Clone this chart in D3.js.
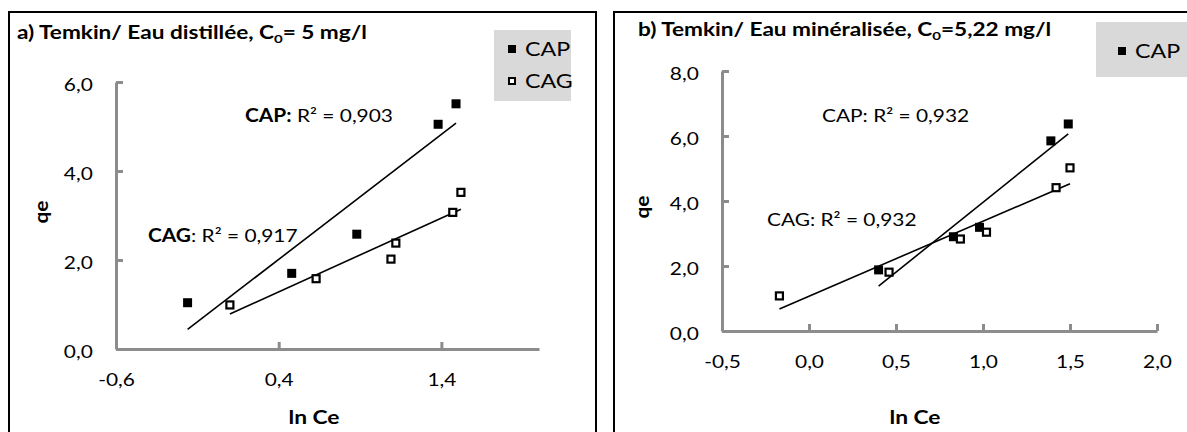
<!DOCTYPE html>
<html>
<head>
<meta charset="utf-8">
<script src="https://cdn.jsdelivr.net/npm/d3@7"></script>
<style>
  body { margin: 0; background: #fff; }
  svg { display: block; font-family: Lato, "Liberation Sans", sans-serif; }
</style>
</head>
<body>
<script>
// a) Temkin / eau distillée
var capXa = [-0.16, 0.48, 0.88, 1.38, 1.49];
var capYa = [1.04, 1.70, 2.58, 5.05, 5.51];
var cagXa = [0.10, 0.63, 1.09, 1.12, 1.47, 1.52];
var cagYa = [0.99, 1.58, 2.02, 2.38, 3.07, 3.52];

// b) Temkin / eau minéralisée
var capXb = [0.40, 0.83, 0.98, 1.39, 1.49];
var capYb = [1.88, 2.90, 3.19, 5.85, 6.37];
var cagXb = [-0.17, 0.46, 0.87, 1.02, 1.42, 1.50];
var cagYb = [1.08, 1.81, 2.83, 3.04, 4.41, 5.02];

// axis ticks
var xTicksA = [-0.6, 0.4, 1.4];
var yTicksA = [0, 2, 4, 6];
var xTicksB = [-0.5, 0, 0.5, 1, 1.5, 2];
var yTicksB = [0, 2, 4, 6, 8];

var fr = d3.formatLocale({decimal: ",", thousands: " ", grouping: [3], currency: ["", ""], minus: "-"});
var fmt = fr.format(".1f");

// the original is stretched sideways a bit, so text is widened to match
var SX = 1.16, SXT = 1.255;

var svg = d3.select("body").append("svg")
  .attr("width", 1187)
  .attr("height", 432);

// least squares trend line over the data range
function trend(xs, ys) {
  var mx = d3.mean(xs), my = d3.mean(ys);
  var sxy = d3.sum(xs, function(x, i) { return (x - mx) * (ys[i] - my); });
  var sxx = d3.sum(xs, function(x) { return (x - mx) * (x - mx); });
  var b = sxy / sxx, a = my - b * mx;
  var x0 = d3.min(xs), x1 = d3.max(xs);
  return [[x0, a + b * x0], [x1, a + b * x1]];
}

function label(g, x, y, s) {
  return g.append("text").attr("transform", "translate(" + x + "," + y + ")scale(" + s + ",1)");
}

function panel(o) {
  var g = svg.append("g");

  // frame
  g.append("rect")
    .attr("x", o.frame[0]).attr("y", 12)
    .attr("width", o.frame[1] - o.frame[0]).attr("height", 440)
    .attr("fill", "none").attr("stroke", "#000").attr("stroke-width", 2);

  var x = d3.scaleLinear().domain(o.xDom).range(o.xRange);
  var y = d3.scaleLinear().domain(o.yDom).range(o.yRange);

  var ax = g.append("g")
    .attr("transform", "translate(0," + o.yRange[0] + ")")
    .call(d3.axisBottom(x).tickValues(o.xTicks).tickFormat(fmt)
      .tickSizeInner(-7).tickSizeOuter(0).tickPadding(24));
  var ay = g.append("g")
    .attr("transform", "translate(" + o.xRange[0] + ",0)")
    .call(d3.axisLeft(y).tickValues(o.yTicks).tickFormat(fmt)
      .tickSizeInner(-7).tickSizeOuter(0).tickPadding(20));

  [ax, ay].forEach(function(a) {
    a.select(".domain").attr("stroke", "#8c8c8c").attr("stroke-width", 3);
    a.selectAll(".tick line").attr("stroke", "#8c8c8c").attr("stroke-width", 3);
    a.selectAll(".tick text").attr("fill", "#000").style("font-size", "18px")
      .style("font-family", "Lato, sans-serif")
      .attr("transform", "scale(" + SX + ",1)");
  });
  ay.selectAll(".tick text").attr("dy", "0.45em");

  // trend lines
  var line = d3.line().x(function(d) { return x(d[0]); }).y(function(d) { return y(d[1]); });
  g.append("path").attr("d", line(trend(o.capX, o.capY)))
    .attr("stroke", "#000").attr("stroke-width", 1.6).attr("fill", "none");
  g.append("path").attr("d", line(trend(o.cagX, o.cagY)))
    .attr("stroke", "#000").attr("stroke-width", 1.6).attr("fill", "none");

  // points
  g.selectAll("rect.cap").data(o.capX).enter().append("rect")
    .attr("class", "cap")
    .attr("x", function(d) { return x(d) - 4.5; })
    .attr("y", function(d, i) { return y(o.capY[i]) - 4.5; })
    .attr("width", 9).attr("height", 9).attr("fill", "#000");
  g.selectAll("rect.cag").data(o.cagX).enter().append("rect")
    .attr("class", "cag")
    .attr("x", function(d) { return x(d) - 3.5; })
    .attr("y", function(d, i) { return y(o.cagY[i]) - 3.5; })
    .attr("width", 7).attr("height", 7)
    .attr("fill", "#fff").attr("stroke", "#000").attr("stroke-width", 2.2);

  // title
  var t = label(g, o.title.x, o.title.y, SXT)
    .style("font-size", "18px").style("font-weight", "bold");
  t.append("tspan").text(o.title.a);
  t.append("tspan").attr("dy", 4).style("font-size", "12px").text("0");
  t.append("tspan").attr("dy", -4).text(o.title.b);

  // axis titles
  label(g, o.xLab[0], o.xLab[1], 1.2)
    .attr("text-anchor", "middle").style("font-size", "19px").style("font-weight", "bold")
    .text("ln Ce");
  g.append("text")
    .attr("transform", "translate(" + o.yLab[0] + "," + o.yLab[1] + ")rotate(-90)scale(1.1,1)")
    .attr("text-anchor", "middle").attr("dy", "0.35em")
    .style("font-size", "19px").style("font-weight", "bold")
    .text("qe");

  // R² annotations
  o.notes.forEach(function(n) {
    var tx = label(g, n.x, n.y, SX).style("font-size", "18px");
    tx.append("tspan").style("font-weight", n.bold ? "bold" : "normal").text(n.k);
    tx.append("tspan").text(n.v);
  });

  // legend
  var lg = g.append("g");
  lg.append("rect").attr("x", o.leg.x).attr("y", o.leg.y)
    .attr("width", o.leg.w).attr("height", o.leg.h).attr("fill", "#d9d9d9");
  o.leg.items.forEach(function(it, i) {
    var cy = o.leg.y0 + i * 32;
    if (it === "CAP") {
      lg.append("rect").attr("x", o.leg.sx - 4).attr("y", cy - 4)
        .attr("width", 8).attr("height", 8).attr("fill", "#000");
    } else {
      lg.append("rect").attr("x", o.leg.sx - 3).attr("y", cy - 3)
        .attr("width", 6).attr("height", 6).attr("fill", "#fff")
        .attr("stroke", "#000").attr("stroke-width", 2);
    }
    label(lg, o.leg.sx + 13, cy, SX).attr("dy", "0.36em")
      .style("font-size", "20px").text(it);
  });
}

panel({
  frame: [9, 596],
  xDom: [-0.6, 2.0], xRange: [116, 539],
  yDom: [0, 6], yRange: [349, 82],
  xTicks: xTicksA, yTicks: yTicksA,
  capX: capXa, capY: capYa, cagX: cagXa, cagY: cagYa,
  title: {x: 17, y: 39, a: "a) Temkin/ Eau distillée, C", b: "= 5 mg/l"},
  xLab: [314, 424], yLab: [41, 212],
  notes: [
    {x: 245, y: 122, k: "CAP:", v: " R² = 0,903", bold: true},
    {x: 148, y: 242, k: "CAG", v: ": R² = 0,917", bold: true}
  ],
  leg: {x: 494, y: 30, w: 77, h: 71, y0: 49, sx: 512, items: ["CAP", "CAG"]}
});

panel({
  frame: [614, 1200],
  xDom: [-0.5, 2.0], xRange: [722, 1157],
  yDom: [0, 8], yRange: [331, 71],
  xTicks: xTicksB, yTicks: yTicksB,
  capX: capXb, capY: capYb, cagX: cagXb, cagY: cagYb,
  title: {x: 638, y: 36, a: "b) Temkin/ Eau minéralisée, C", b: "=5,22 mg/l"},
  xLab: [915, 424], yLab: [642, 207],
  notes: [
    {x: 822, y: 122, k: "CAP:", v: " R² = 0,932", bold: false},
    {x: 767, y: 226, k: "CAG:", v: " R² = 0,932", bold: false}
  ],
  leg: {x: 1096, y: 22, w: 120, h: 55, y0: 51, sx: 1122, items: ["CAP"]}
});
</script>
</body>
</html>
